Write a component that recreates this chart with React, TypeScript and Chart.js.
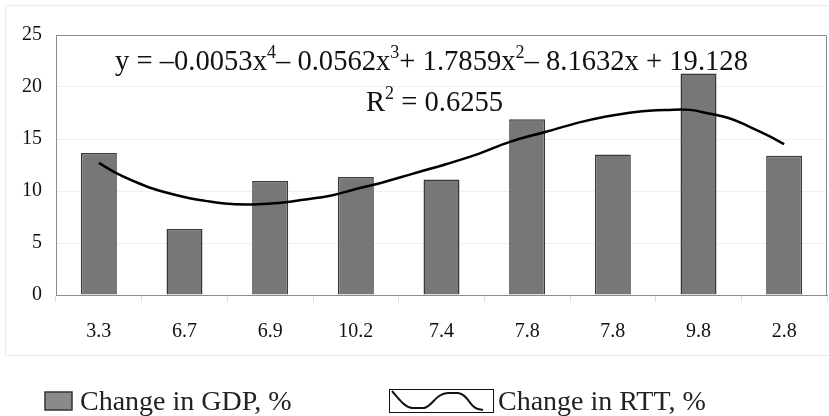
import React, { useEffect, useRef } from "react";
import { Chart, registerables } from "chart.js";

Chart.register(...registerables);

const categories = ["3.3", "6.7", "6.9", "10.2", "7.4", "7.8", "7.8", "9.8", "2.8"];
const gdpChange = [13.65, 6.35, 10.95, 11.35, 11.1, 16.9, 13.5, 21.3, 13.4];
const trendX = [1.0, 1.21, 1.48, 1.68, 2.06, 2.24, 2.47, 2.73, 2.9, 3.15, 3.34, 3.73, 3.96, 4.28, 4.66, 5.06, 5.44, 5.79, 6.22, 6.61, 6.88, 7.27, 7.66, 7.9, 8.12, 8.36, 8.59, 8.82, 9.0];
const trendY = [12.7, 11.7, 10.7, 10.1, 9.3, 9.05, 8.8, 8.7, 8.75, 8.9, 9.1, 9.6, 10.1, 10.75, 11.65, 12.6, 13.6, 14.7, 15.7, 16.6, 17.1, 17.6, 17.8, 17.8, 17.45, 17.0, 16.2, 15.3, 14.5];
const yTicks = [0, 5, 10, 15, 20, 25];
const seriesLabels = ["Change in GDP, %", "Change in RTT, %"];
const equationParts: [string, boolean][] = [
  ["y = \u20130.0053x", false], ["4", true], ["\u2013 0.0562x", false], ["3", true],
  ["+ 1.7859x", false], ["2", true], ["\u2013 8.1632x + 19.128", false],
];
const r2Parts: [string, boolean][] = [["R", false], ["2", true], [" = 0.6255", false]];

const FONT = "'Liberation Serif', 'Times New Roman', serif";

function drawParts(ctx: CanvasRenderingContext2D, parts: [string, boolean][], x: number, y: number, size: number) {
  let cx = x;
  for (const [t, sup] of parts) {
    ctx.font = `${sup ? Math.round(size * 0.62) : size}px ${FONT}`;
    ctx.fillText(t, cx, sup ? y - size * 0.42 : y);
    cx += ctx.measureText(t).width;
  }
}

const decorPlugin = {
  id: "decor",
  beforeDraw(chart: any) {
    const ctx = chart.ctx;
    ctx.save();
    ctx.fillStyle = "#ffffff";
    ctx.fillRect(0, 0, chart.width, chart.height);
    ctx.strokeStyle = "#ebebeb";
    ctx.lineWidth = 1;
    ctx.beginPath();
    ctx.moveTo(829, 5.5); ctx.lineTo(5.5, 5.5); ctx.lineTo(5.5, 355.5); ctx.lineTo(829, 355.5);
    ctx.stroke();
    ctx.restore();
  },
  beforeDatasetsDraw(chart: any) {
    const { ctx, chartArea: a } = chart;
    ctx.save();
    ctx.strokeStyle = "#8c8c8c";
    ctx.lineWidth = 1;
    ctx.beginPath();
    ctx.moveTo(a.left, a.top + 0.5); ctx.lineTo(a.right - 0.5, a.top + 0.5); ctx.lineTo(a.right - 0.5, a.bottom);
    ctx.stroke();
    ctx.restore();
  },
  afterDraw(chart: any) {
    const ctx = chart.ctx;
    ctx.save();
    ctx.fillStyle = "#111";
    ctx.textBaseline = "alphabetic";
    drawParts(ctx, equationParts, 115, 70, 28.6);
    drawParts(ctx, r2Parts, 366, 111, 28.6);

    // legend
    const ds = chart.data.datasets;
    ctx.fillStyle = "#8a8a8a";
    ctx.fillRect(45, 392, 27, 18);
    ctx.strokeStyle = "#333";
    ctx.lineWidth = 1.5;
    ctx.strokeRect(45, 392, 27, 18);
    ctx.fillStyle = "#222";
    ctx.font = `28px ${FONT}`;
    ctx.fillText(ds[0].label, 80, 410);

    ctx.strokeStyle = "#111";
    ctx.lineWidth = 1;
    ctx.strokeRect(389.5, 389.5, 104, 23);
    ctx.lineWidth = 2;
    ctx.beginPath();
    ctx.moveTo(392, 391);
    ctx.bezierCurveTo(398, 398, 404, 407, 412, 408);
    ctx.lineTo(424, 408);
    ctx.bezierCurveTo(432, 407, 436, 393, 448, 393);
    ctx.lineTo(458, 393);
    ctx.bezierCurveTo(468, 394, 470, 408, 478, 409);
    ctx.lineTo(483, 410);
    ctx.stroke();
    ctx.fillStyle = "#222";
    ctx.fillText(ds[1].label, 498, 410);
    ctx.restore();
  },
};

export default function App() {
  const ref = useRef<HTMLCanvasElement | null>(null);
  useEffect(() => {
    if (!ref.current) return;
    const chart = new Chart(ref.current, {
      type: "bar",
      data: {
        labels: categories,
        datasets: [
          {
            type: "bar",
            label: seriesLabels[0],
            data: gdpChange,
            xAxisID: "x",
            backgroundColor: "#777777",
            borderColor: "#383838",
            borderWidth: 1.5,
            categoryPercentage: 1,
            barPercentage: 0.42,
            grouped: false,
            order: 2,
          } as any,
          {
            type: "line",
            label: seriesLabels[1],
            data: trendX.map((x, i) => ({ x, y: trendY[i] })),
            xAxisID: "xl",
            borderColor: "#000",
            borderWidth: 2.5,
            pointRadius: 0,
            tension: 0.4,
            fill: false,
            order: 1,
          } as any,
        ],
      },
      options: {
        animation: false,
        responsive: true,
        maintainAspectRatio: false,
        layout: { padding: { top: 35, right: 2, bottom: 71, left: 0 } },
        plugins: { legend: { display: false }, tooltip: { enabled: false } },
        scales: {
          x: {
            type: "category",
            offset: true,
            grid: { offset: true, drawOnChartArea: false, drawTicks: true, tickLength: 7, color: "#e0e0e0" },
            border: { color: "#8c8c8c", width: 1 },
            ticks: { font: { family: FONT, size: 20 }, color: "#111", padding: 18, maxRotation: 0 },
            afterFit: (s: any) => { s.height = 50; },
          },
          xl: { type: "linear", min: 0.5, max: 9.5, offset: false, display: false, grid: { offset: false } },
          y: {
            min: 0,
            max: 25,
            afterBuildTicks: (s: any) => { s.ticks = yTicks.map((v) => ({ value: v })); },
            grid: { color: "#f0f0f0", drawTicks: false },
            border: { color: "#8c8c8c", width: 1 },
            ticks: { font: { family: FONT, size: 20 }, color: "#111", padding: 14 },
            afterFit: (s: any) => { s.width = 56; },
          },
        },
      },
      plugins: [decorPlugin],
    });
    return () => chart.destroy();
  }, []);
  return (
    <div style={{ position: "absolute", left: 0, top: 0, width: 829, height: 416, background: "#fff" }}>
      <canvas ref={ref} />
    </div>
  );
}
